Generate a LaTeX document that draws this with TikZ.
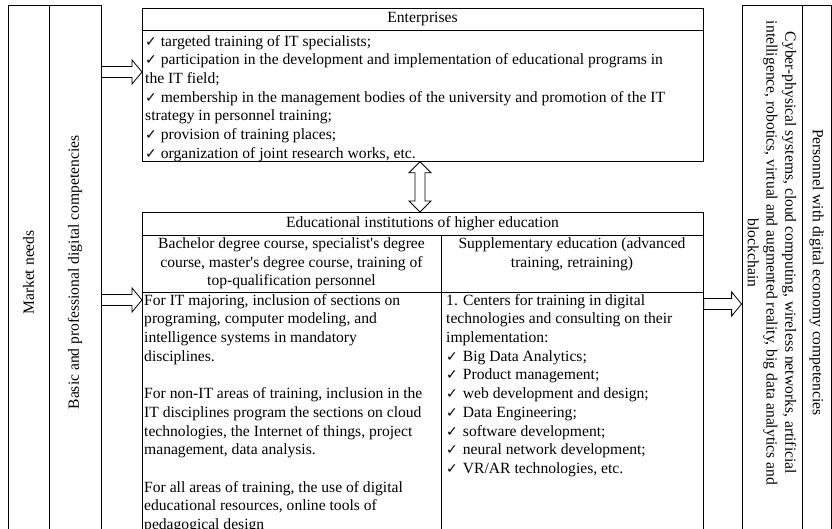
\documentclass[tikz,border=0pt]{standalone}
\usepackage{fontspec}
\setmainfont{Liberation Serif}
\newfontfamily\symfont{DejaVu Sans}
\usetikzlibrary{calc}

% small tick used in the bullet lists
\newcommand{\ck}{{\symfont\fontsize{14}{14}\selectfont ✓}}

% hollow block arrow pointing right, between two points at the same height
\newcommand{\hblock}[2]{%
  \draw[blockarrow] let \p1=(#1), \p2=(#2) in
    (\x1,\y1+5.5pt) -- (\x2-10pt,\y1+5.5pt) -- (\x2-10pt,\y1+12pt) -- (\x2,\y1)
    -- (\x2-10pt,\y1-12pt) -- (\x2-10pt,\y1-5.5pt) -- (\x1,\y1-5.5pt) -- cycle;}

% hollow two-headed vertical block arrow, from an upper to a lower point
\newcommand{\vdouble}[2]{%
  \draw[blockarrow] let \p1=(#1), \p2=(#2) in
    (\x1,\y1) -- (\x1+11pt,\y1-11pt) -- (\x1+5pt,\y1-11pt) -- (\x1+5pt,\y2+11pt)
    -- (\x1+11pt,\y2+11pt) -- (\x1,\y2) -- (\x1-11pt,\y2+11pt) -- (\x1-5pt,\y2+11pt)
    -- (\x1-5pt,\y1-11pt) -- (\x1-11pt,\y1-11pt) -- cycle;}

\begin{document}
\begin{tikzpicture}[x=1pt,y=-1pt,
  every node/.style={font=\fontsize{15.6}{18.7}\selectfont},
  frame/.style={draw, line width=0.8pt, inner sep=0pt},
  rule/.style={line width=0.8pt},
  txt/.style={inner sep=0pt, align=left},
  ctxt/.style={inner sep=0pt, align=center},
  blockarrow/.style={draw, line width=0.8pt, fill=white, line join=miter}]

\useasboundingbox (0,0) rectangle (832,529);
\clip (0,0) rectangle (832,529);

% vertical strips on both sides
\node[frame, rotate=90, minimum width=535pt, minimum height=41pt]
  (market) at (28.5,272.5) {Market needs};
\node[frame, rotate=90, minimum width=535pt, minimum height=52pt]
  (basic) at (75,272.5) {Basic and professional digital competencies};
\node[frame, rotate=-90, minimum width=535pt, minimum height=60pt]
  (cyber) at (772,272.5) {};
\node[ctxt, rotate=-90] (cybertxt) at (772,253)
  {Cyber-physical systems, cloud computing, wireless networks, artificial\\
   intelligence, robotics, virtual and augmented reality, big data analytics and\\
   blockchain};
\node[frame, rotate=-90, minimum width=535pt, minimum height=29pt]
  (personnel) at (816.5,272.5) {Personnel with digital economy competencies};

% enterprises
\node[frame, anchor=north west, minimum width=561pt, minimum height=153pt]
  (ent) at (142,8) {};
\draw[rule] (ent.west |- 0,30.5) -- (ent.east |- 0,30.5);
\node[ctxt] (enthead) at (422.5,19) {Enterprises};
\node[txt, anchor=north west] (entbody) at (145,35) {%
  \ck\ targeted training of IT specialists;\\
  \ck\ participation in the development and implementation of educational programs in\\
  the IT field;\\
  \ck\ membership in the management bodies of the university and promotion of the IT\\
  strategy in personnel training;\\
  \ck\ provision of training places;\\
  \ck\ organization of joint research works, etc.};

% educational institutions
\node[frame, anchor=north west, minimum width=561pt, minimum height=340pt]
  (edu) at (142,212) {};
\draw[rule] (edu.west |- 0,235.5) -- (edu.east |- 0,235.5);
\draw[rule] (edu.west |- 0,292) -- (edu.east |- 0,292);
\draw[rule] (441,235.5) -- (441,552);
\node[ctxt] (eduhead) at (422.5,223.5) {Educational institutions of higher education};
\node[ctxt] (bach) at (291.5,263.5)
  {Bachelor degree course, specialist\textquotesingle s degree\\
   course, master\textquotesingle s degree course, training of\\
   top-qualification personnel};
\node[ctxt] (supp) at (572,254.5)
  {Supplementary education (advanced\\ training, retraining)};
\node[txt, anchor=north west] (highbody) at (144,294) {%
  For IT majoring, inclusion of sections on\\
  programing, computer modeling, and\\
  intelligence systems in mandatory\\
  disciplines.\\[18.7pt]
  For non-IT areas of training, inclusion in the\\
  IT disciplines program the sections on cloud\\
  technologies, the Internet of things, project\\
  management, data analysis.\\[18.7pt]
  For all areas of training, the use of digital\\
  educational resources, online tools of\\
  pedagogical design};
\node[txt, anchor=north west] (suppbody) at (446,294) {%
  1. Centers for training in digital\\
  technologies and consulting on their\\
  implementation:\\
  \ck\hspace{5pt}Big Data Analytics;\\
  \ck\hspace{5pt}Product management;\\
  \ck\hspace{5pt}web development and design;\\
  \ck\hspace{5pt}Data Engineering;\\
  \ck\hspace{5pt}software development;\\
  \ck\hspace{5pt}neural network development;\\
  \ck\hspace{5pt}VR/AR technologies, etc.};

% connectors
\hblock{basic.south |- 0,72}{ent.west |- 0,72}
\hblock{basic.south |- 0,300}{edu.west |- 0,300}
\hblock{edu.east |- 0,304}{cyber.south |- 0,304}
\vdouble{ent.south -| 420,0}{edu.north -| 420,0}
\end{tikzpicture}
\end{document}
